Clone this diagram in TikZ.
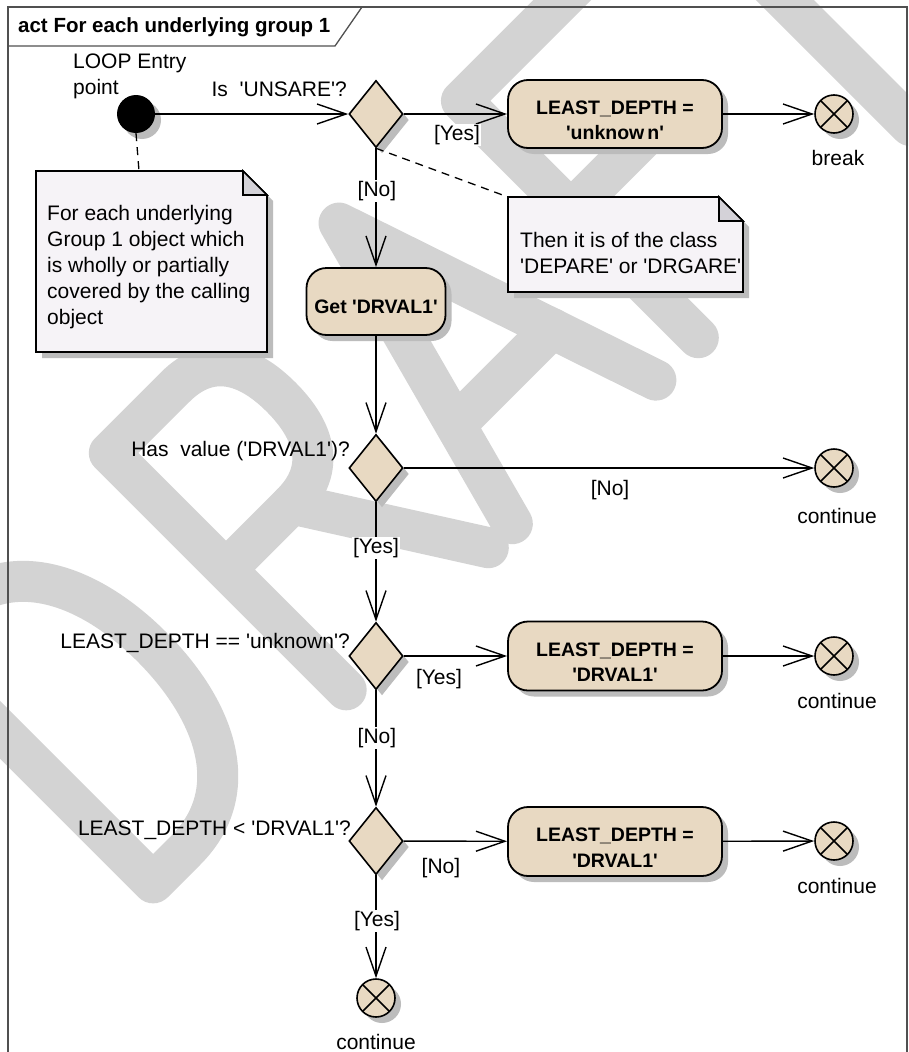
\documentclass[tikz,border=0pt]{standalone}
\usepackage{fontspec}
\setmainfont{Liberation Sans}
\usetikzlibrary{arrows.meta,shapes.geometric,shadows}
\definecolor{actfill}{RGB}{232,217,194}
\definecolor{notefill}{RGB}{246,243,247}
\definecolor{foldfill}{RGB}{212,210,216}
\definecolor{shadowc}{RGB}{188,188,188}
\definecolor{wmgray}{RGB}{211,211,211}
\definecolor{framec}{RGB}{80,80,80}
\newcommand{\squote}{\textquotesingle}
\tikzset{
  txt/.style={font=\fontsize{21}{26}\selectfont, inner sep=0pt},
  guard/.style={txt, fill=white, inner sep=1pt},
  conn/.style={line width=1.4pt, -{Straight Barb[length=29pt,width=20pt]}},
  notelink/.style={line width=1.3pt, dash pattern=on 8pt off 6pt},
  shad/.style={drop shadow={shadow xshift=6pt, shadow yshift=-6pt, fill=shadowc, opacity=1}},
  action/.style={rectangle, rounded corners=20pt, draw, line width=1.8pt, fill=actfill, shad,
    font=\bfseries\fontsize{19.5}{25.5}\selectfont, align=center,
    minimum width=214pt, minimum height=68pt, inner sep=0pt},
  decision/.style={diamond, draw, line width=1.6pt, fill=actfill, shad,
    minimum width=54pt, minimum height=67pt, inner sep=0pt, shape aspect=0.8},
  flowfinal/.style={circle, draw, line width=1.6pt, fill=actfill, shad, minimum size=38pt, inner sep=0pt,
    path picture={\draw[line width=1.6pt] (path picture bounding box.north west) -- (path picture bounding box.south east)
      (path picture bounding box.north east) -- (path picture bounding box.south west);}},
  startdot/.style={circle, fill=black, shad, minimum size=38pt, inner sep=0pt},
  wm/.style={draw=wmgray, line width=41pt, line cap=round, line join=round},
  notebox/.style={draw, line width=1.6pt, fill=notefill, line join=miter},
  foldbox/.style={draw, line width=1.6pt, fill=foldfill},
  frameline/.style={draw=framec, line width=1.3pt},
}
\begin{document}
\begin{tikzpicture}[x=1pt,y=-1pt]
\useasboundingbox (0,0) rectangle (908,1052);
\fill[white] (0,0) rectangle (908,1052);

% watermark DRAFT
\begin{scope}
\clip (0,0) rectangle (908,1052);
\begin{scope}[x=1pt,y=1pt,shift={(518pt,-518pt)},rotate=45]
\draw[wm] (-516,0) -- (-516,335) -- (-470,335) .. controls (-385,335) and (-350,255) .. (-350,168) .. controls (-350,80) and (-385,0) .. (-470,0) -- cycle;
\draw[wm] (-243,0) -- (-243,335) -- (-150,335) .. controls (-100,335) and (-82,300) .. (-82,253) .. controls (-82,206) and (-100,170) .. (-150,170) -- (-243,170);
\draw[wm] (-150,170) -- (-42,0);
\draw[wm] (-8,0) -- (82,335) -- (195,0);
\draw[wm] (22,110) -- (158,110);
\draw[wm] (255,0) -- (255,335) -- (430,335);
\draw[wm] (255,180) -- (380,180);
\draw[wm] (465,335) -- (650,335);
\draw[wm] (555,335) -- (555,0);
\end{scope}
\end{scope}

% frame
\draw[frameline] (8,1052) -- (8,7) -- (907,7) -- (907,1052);
\draw[frameline] (8,46) -- (335,46) -- (362,7);
\node[anchor=base west, inner sep=0pt, font=\bfseries\fontsize{20.5}{24}\selectfont] (title) at (18,32) {act For each underlying group 1};

% notes
\fill[shadowc] (42,177) -- (249,177) -- (273,201) -- (273,358) -- (42,358) -- cycle;
\draw[notebox] (36,171) -- (243,171) -- (267,195) -- (267,352) -- (36,352) -- cycle;
\draw[foldbox] (243,171) -- (243,195) -- (267,195) -- cycle;
\node[txt, anchor=north west, align=left] (n1) at (47,204) {\rule{0pt}{16pt}For each underlying\\Group 1 object which\\is wholly or partially\\covered by the calling\\object};
\coordinate (n1top) at (139,171);

\fill[shadowc] (514,203) -- (725,203) -- (749,227) -- (749,298) -- (514,298) -- cycle;
\draw[notebox] (508,197) -- (719,197) -- (743,221) -- (743,292) -- (508,292) -- cycle;
\draw[foldbox] (719,197) -- (719,221) -- (743,221) -- cycle;
\node[txt, anchor=north west, align=left] (n2) at (520,231) {\rule{0pt}{16pt}Then it is of the class\\\squote DEPARE\squote{} or \squote DRGARE\squote};
\coordinate (n2corner) at (508,197);

% nodes
\node[startdot] (init) at (136,114) {};
\node[txt, anchor=north west, align=left] (loop) at (73,52) {\rule{0pt}{16pt}LOOP Entry\\point};

\node[decision] (d1) at (376,114) {};
\node[txt, anchor=base east] (q1) at (347,96) {Is\ \ \squote UNSARE\squote?};
\node[action] (a1) at (615,114) {\rule{0pt}{26pt}LEAST\_DEPTH =\\\squote unknow\hspace{3pt}n\squote};
\node[flowfinal] (f1) at (834,114) {};
\node[txt, anchor=base] (l1) at (838,165) {break};

\node[action, minimum width=139pt, minimum height=67pt] (a2) at (376,301.5) {\rule{0pt}{24pt}Get \squote DRVAL1\squote};

\node[decision] (d2) at (376,468) {};
\node[txt, anchor=base east] (q2) at (350,456) {Has\ \ value (\squote DRVAL1\squote)?};
\node[flowfinal] (f2) at (834,468) {};
\node[txt, anchor=base] (l2) at (837,523) {continue};

\node[decision] (d3) at (376,656) {};
\node[txt, anchor=base east] (q3) at (350,648) {LEAST\_DEPTH == \squote unknown\squote?};
\node[action, minimum height=69pt] (a3) at (615,656) {\rule{0pt}{26pt}LEAST\_DEPTH =\\\squote DRVAL1\squote};
\node[flowfinal] (f3) at (834,656) {};
\node[txt, anchor=base] (l3) at (837,708) {continue};

\node[decision] (d4) at (376,841) {};
\node[txt, anchor=base east] (q4) at (351,835) {LEAST\_DEPTH < \squote DRVAL1\squote?};
\node[action, minimum height=69pt] (a4) at (615,841.5) {\rule{0pt}{26pt}LEAST\_DEPTH =\\\squote DRVAL1\squote};
\node[flowfinal] (f4) at (834,841) {};
\node[txt, anchor=base] (l4) at (837,893) {continue};

\node[flowfinal] (f5) at (376,998) {};
\node[txt, anchor=base] (l5) at (376,1049) {continue};

% note links
\draw[notelink] (init.south) -- (n1top);
\draw[notelink] (d1.south) -- (n2corner);

% connectors
\draw[conn] (init) -- (d1);
\draw[conn] (d1) -- (a1);
\draw[conn] (a1) -- (f1);
\draw[conn] (d1) -- (a2);
\draw[conn] (a2) -- (d2);
\draw[conn] (d2) -- (f2);
\draw[conn] (d2) -- (d3);
\draw[conn] (d3) -- (a3);
\draw[conn] (a3) -- (f3);
\draw[conn] (d3) -- (d4);
\draw[conn] (d4) -- (a4);
\draw[conn] (a4) -- (f4);
\draw[conn] (d4) -- (f5);

% guards
\node[guard] (g1) at (457,135) {[Yes]};
\node[guard] (g2) at (377,191) {[No]};
\node[guard] (g3) at (610,490) {[No]};
\node[guard] (g4) at (376,548) {[Yes]};
\node[guard] (g5) at (439,679) {[Yes]};
\node[guard] (g6) at (377,738) {[No]};
\node[guard] (g7) at (441,868) {[No]};
\node[guard] (g8) at (377,921) {[Yes]};
\end{tikzpicture}
\end{document}
